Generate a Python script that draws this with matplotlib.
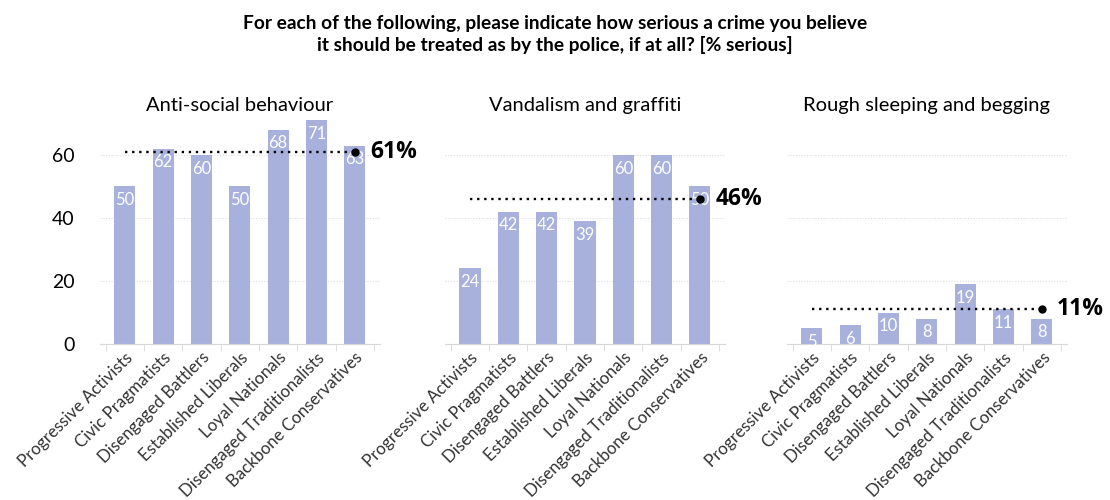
import numpy as np
import matplotlib
matplotlib.use("Agg")
import matplotlib.pyplot as plt

plt.rcParams['font.family'] = ['Lato', 'DejaVu Sans']

segments = ["Progressive Activists", "Civic Pragmatists", "Disengaged Battlers",
            "Established Liberals", "Loyal Nationals", "Disengaged Traditionalists",
            "Backbone Conservatives"]

panel_titles = ["Anti-social behaviour", "Vandalism and graffiti",
                "Rough sleeping and begging"]

antisocial = [50, 62, 60, 50, 68, 71, 63]
vandalism = [24, 42, 42, 39, 60, 60, 50]
rough_sleeping = [5, 6, 10, 8, 19, 11, 8]

averages = [61, 46, 11]

series = [antisocial, vandalism, rough_sleeping]

bar_color = "#a7b1dc"
title = ("For each of the following, please indicate how serious a crime you believe\n"
         "it should be treated as by the police, if at all? [% serious]")

fig = plt.figure(figsize=(11.1, 5), dpi=100)
fig.text(0.5, 0.97, title, ha="center", va="top", fontsize=13.8,
         fontweight="bold", linespacing=1.25)

lefts = [0.09, 0.401, 0.709]
width = 0.252
bottom = 0.312
ymax = 71
height = ymax * 3.15 / 500

x = np.arange(len(segments))
for k, (vals, avg, name) in enumerate(zip(series, averages, panel_titles)):
    ax = fig.add_axes([lefts[k], bottom, width, height])
    ax.bar(x, vals, width=0.55, color=bar_color, zorder=2)
    for xi, v in zip(x, vals):
        ax.text(xi, v - 1.8, str(v), ha="center", va="top", color="white",
                fontsize=12, zorder=3)
    ax.plot([x[0], x[-1]], [avg, avg], linestyle=(0, (1, 2.0)), color="black",
            linewidth=1.7, zorder=4)
    ax.plot([x[-1]], [avg], marker="o", color="black", markersize=5, zorder=5)
    ax.text(x[-1] + 0.4, avg, f"{avg}%", ha="left", va="center",
            fontsize=16.5, fontweight="bold", family=["Open Sans", "DejaVu Sans"])

    ax.set_xlim(-0.65, len(segments) - 0.35)
    ax.set_ylim(0, ymax)
    ax.set_yticks([0, 20, 40, 60])
    ax.grid(axis="y", linestyle=(0, (1, 1.5)), color="#dddddd", linewidth=0.8, zorder=0)
    for s in ["top", "right", "left"]:
        ax.spines[s].set_visible(False)
    ax.spines["bottom"].set_color("#d8d8d8")
    ax.set_xticks(x)
    ax.set_xticklabels(segments, rotation=45, ha="right", rotation_mode="anchor",
                       fontsize=12.2, color="#333333")
    ax.tick_params(axis="x", which="major", length=0, pad=4)
    ax.set_xticks(np.arange(-0.5, len(segments)), minor=True)
    ax.tick_params(axis="x", which="minor", length=5, color="#d8d8d8")
    ax.tick_params(axis="y", length=0, labelsize=14, pad=18)
    if k > 0:
        ax.set_yticklabels([])
    ax.set_title(name, fontsize=14.5, pad=7)

plt.savefig("out.png", dpi=100)
